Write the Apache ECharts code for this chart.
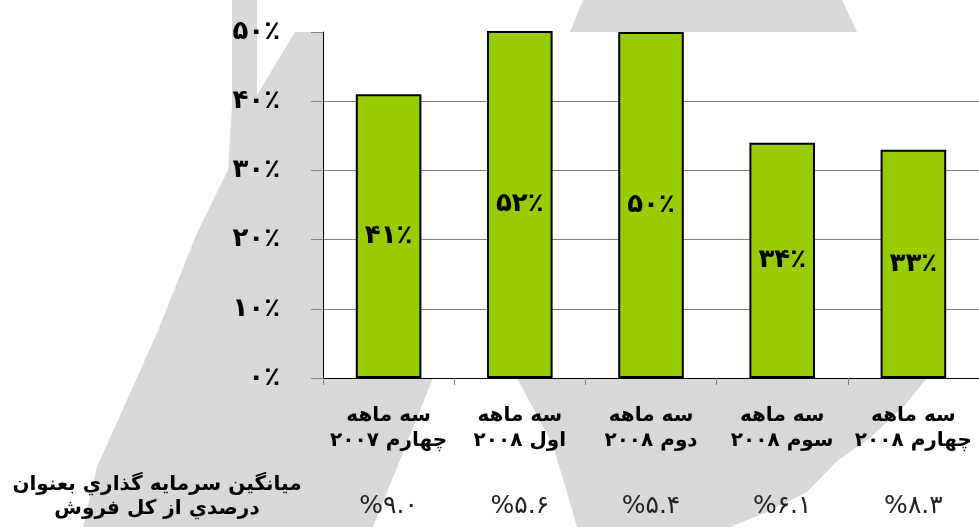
<!DOCTYPE html>
<html>
<head>
<meta charset="utf-8">
<script src="https://cdn.jsdelivr.net/npm/echarts@6/dist/echarts.min.js"></script>
<style>
html,body{margin:0;padding:0;background:#fff;}
#c{width:979px;height:527px;}
</style>
</head>
<body>
<div id="c"></div>
<script>
// ---- data ----
var categories = [
  'سه ماهه\nچهارم ۲۰۰۷',
  'سه ماهه\nاول ۲۰۰۸',
  'سه ماهه\nدوم ۲۰۰۸',
  'سه ماهه\nسوم ۲۰۰۸',
  'سه ماهه\nچهارم ۲۰۰۸'
];
var shareValues = [41, 52, 50, 34, 33];          // bar heights (%)
var investRatio = [9.0, 5.6, 5.4, 6.1, 8.3];     // bottom row (%)
var rowLabel = 'ميانگين سرمايه گذاري بعنوان\nدرصدي از کل فروش';
var yMin = 0, yMax = 50, yStep = 10;

// ---- helpers ----
var faDigits = ['۰','۱','۲','۳','۴','۵','۶','۷','۸','۹'];
function toFa(s){ return String(s).replace(/[0-9]/g, function(d){ return faDigits[+d]; }); }
var rowTexts = investRatio.map(function(v){ return '%' + toFa(v.toFixed(1)); });

var chart = echarts.init(document.getElementById('c'), null, {renderer:'canvas'});
var G = '#d8d8d8';
var option = {
  backgroundColor: '#ffffff',
  animation: false,
  graphic: [
    { type:'rect', z:-10, silent:true, shape:{ x:232, y:0, width:25, height:110 }, style:{ fill:G } },
    { type:'polygon', z:-10, silent:true,
      shape:{ points:[[295,32],[323,32],[323,527],[83,527],[97,467],[157,333],[197,233],[228,170],[232,105],[257,95]] },
      style:{ fill:G } },
    { type:'polygon', z:-10, silent:true,
      shape:{ points:[[323,300],[445,350],[433,378],[373,527],[323,527]] },
      style:{ fill:G } },
    { type:'polygon', z:-10, silent:true,
      shape:{ points:[[583,0],[842,0],[857,32],[927,378],[905,405],[870,438],[837,461],[807,492],[765,513],[730,527],[577,527],[553,445],[517,378],[570,32]] },
      style:{ fill:G } },
    { type:'text', z:5, x:157, y:473, silent:true,
      style:{ text: rowLabel, align:'center', verticalAlign:'top',
        font:'bold 20px "DejaVu Sans"', fill:'#000', lineHeight:24 } }
  ],
  grid: { left:323, right:0, top:32, bottom:149, show:true, backgroundColor:'#ffffff', borderWidth:0 },
  xAxis: [
    { type:'category', data:categories, position:'bottom',
      axisLine:{ show:true, lineStyle:{ color:'#000', width:1 } },
      axisTick:{ show:true, length:7, lineStyle:{ color:'#808080' } },
      axisLabel:{ interval:0, margin:25, color:'#000', fontFamily:'DejaVu Sans', fontWeight:'bold', fontSize:20, lineHeight:25 } },
    { type:'category', data:rowTexts, position:'bottom', offset:108,
      axisLine:{ show:false }, axisTick:{ show:false },
      axisLabel:{ interval:0, margin:8, color:'#222', fontFamily:'DejaVu Sans', fontSize:25 } }
  ],
  yAxis: {
    type:'value', min:yMin, max:yMax, interval:yStep,
    axisLine:{ show:true, lineStyle:{ color:'#000', width:1 } },
    axisTick:{ show:true, inside:false, length:12, lineStyle:{ color:'#808080' } },
    splitLine:{ show:true, lineStyle:{ color:['#808080','#808080','#808080','#808080','#808080','rgba(0,0,0,0)'], width:1 } },
    axisLabel:{ margin:43, color:'#000', fontFamily:'DejaVu Sans', fontWeight:'bold', fontSize:26,
      formatter:function(v){ return toFa(v) + '٪'; } }
  },
  series: [{
    type:'bar', xAxisIndex:0, data:shareValues, barWidth:'50%', clip:true,
    itemStyle:{ color:'#99cc00', borderColor:'#000', borderWidth:2 },
    label:{ show:true, position:'inside', color:'#000', fontFamily:'DejaVu Sans', fontWeight:'bold', fontSize:26,
      formatter:function(p){ return toFa(p.value) + '٪'; } }
  }]
};
chart.setOption(option);
</script>
</body>
</html>
